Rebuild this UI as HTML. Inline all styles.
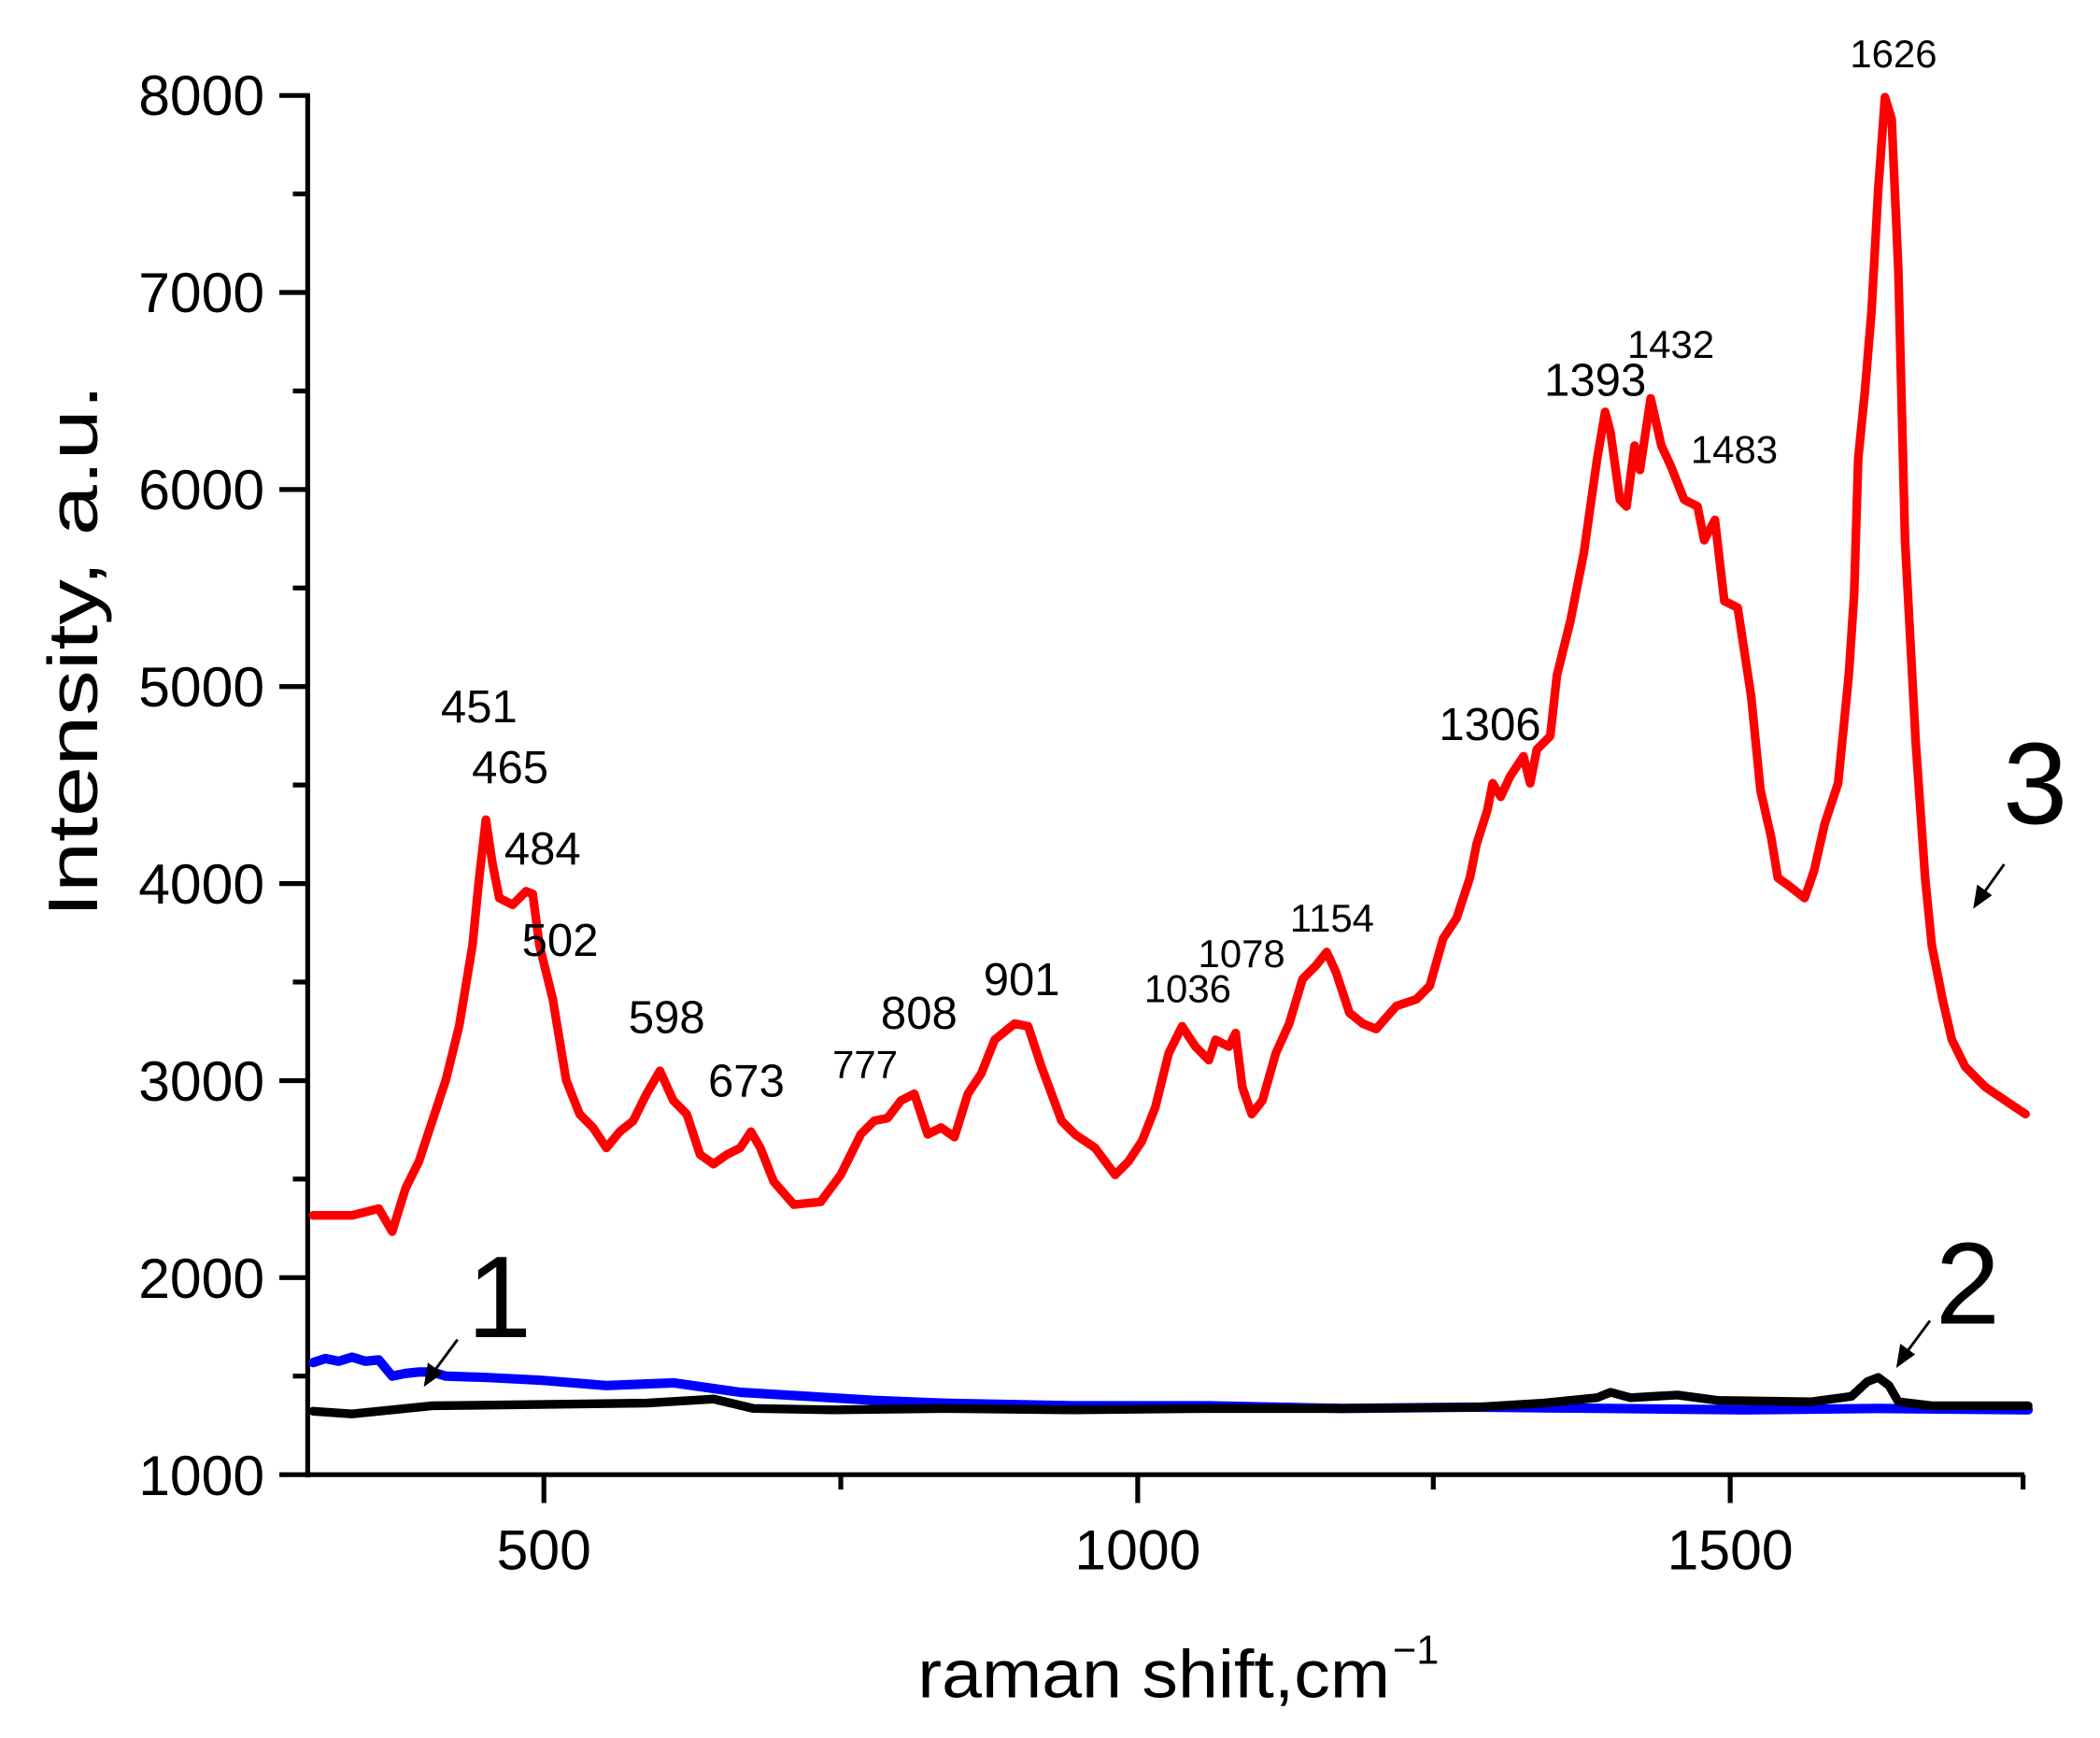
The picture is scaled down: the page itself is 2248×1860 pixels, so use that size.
<!DOCTYPE html>
<html><head><meta charset="utf-8"><style>
html,body{margin:0;padding:0;background:#fff;}
svg{display:block;}
text{font-family:"Liberation Sans",Arial,sans-serif;fill:#000;}
</style></head><body>
<svg width="2248" height="1860" viewBox="0 0 1556 1287" preserveAspectRatio="none" xmlns="http://www.w3.org/2000/svg">
<rect width="1556" height="1287" fill="#fff"/>
<g stroke="#000" stroke-width="3.6" fill="none">
<line x1="228" y1="69" x2="228" y2="1094"/>
<line x1="226.5" y1="1092" x2="1500" y2="1092"/>
<line x1="207" y1="1092" x2="228" y2="1092"/>
<line x1="207" y1="946.1" x2="228" y2="946.1"/>
<line x1="207" y1="800.2" x2="228" y2="800.2"/>
<line x1="207" y1="654.3" x2="228" y2="654.3"/>
<line x1="207" y1="508.4" x2="228" y2="508.4"/>
<line x1="207" y1="362.5" x2="228" y2="362.5"/>
<line x1="207" y1="216.6" x2="228" y2="216.6"/>
<line x1="207" y1="70.7" x2="228" y2="70.7"/>
<line x1="217" y1="1019" x2="228" y2="1019"/>
<line x1="217" y1="873.1" x2="228" y2="873.1"/>
<line x1="217" y1="727.2" x2="228" y2="727.2"/>
<line x1="217" y1="581.3" x2="228" y2="581.3"/>
<line x1="217" y1="435.4" x2="228" y2="435.4"/>
<line x1="217" y1="289.5" x2="228" y2="289.5"/>
<line x1="217" y1="143.6" x2="228" y2="143.6"/>
<line x1="403" y1="1092" x2="403" y2="1113"/>
<line x1="843" y1="1092" x2="843" y2="1113"/>
<line x1="1282" y1="1092" x2="1282" y2="1113"/>
<line x1="623" y1="1092" x2="623" y2="1103"/>
<line x1="1062" y1="1092" x2="1062" y2="1103"/>
<line x1="1499" y1="1092" x2="1499" y2="1103"/>
</g>
<g font-size="42" text-anchor="end">
<text x="196" y="1107">1000</text>
<text x="196" y="961">2000</text>
<text x="196" y="815">3000</text>
<text x="196" y="669">4000</text>
<text x="196" y="523">5000</text>
<text x="196" y="377">6000</text>
<text x="196" y="231">7000</text>
<text x="196" y="85">8000</text>
</g>
<g font-size="42" text-anchor="middle">
<text x="403" y="1162">500</text>
<text x="843" y="1162">1000</text>
<text x="1282" y="1162">1500</text>
</g>
<text x="680" y="1257" font-size="50" textLength="350" lengthAdjust="spacingAndGlyphs">raman shift,cm</text>
<text x="1032" y="1232" font-size="30">−1</text>
<text transform="translate(72,482) rotate(-90)" font-size="52" text-anchor="middle" textLength="395" lengthAdjust="spacingAndGlyphs">Intensity, a.u.</text>

<g transform="matrix(0.992 0 0 1 2.9 0)" fill="none" stroke-linejoin="round" stroke-linecap="round">
<polyline stroke="#0000ff" stroke-width="7" points="231,1009 240,1006 250,1008 260,1005 270,1008 280,1007 290,1019 300,1017 310,1016 320,1016 330,1019 360,1020 400,1022 450,1026 500,1024 550,1031 600,1034 650,1037 700,1039 800,1041 900,1041 1000,1043 1100,1042 1200,1043 1300,1044 1400,1043 1512,1044"/>
<polyline stroke="#000" stroke-width="6.5" points="231,1045 260,1047 320,1041 400,1040 480,1039 530,1036 560,1043 620,1044 700,1043 800,1044 900,1043 1000,1043 1100,1042 1150,1039 1190,1035 1200,1031 1215,1035 1250,1033 1280,1037 1350,1038 1380,1034 1392,1023 1400,1020 1408,1026 1415,1038 1440,1041 1512,1041"/>
<polyline stroke="#ff0000" stroke-width="6.5" points="231,900 260,900 280,895 290,912 300,880 310,860 320,830 330,800 340,760 345,730 350,700 355,650 360,607 365,640 370,665 380,670 390,660 395,662 400,700 410,740 420,800 430,825 440,835 450,850 460,838 470,830 480,810 490,793 500,815 510,825 520,855 530,862 540,855 550,850 558,838 565,850 575,875 590,892 610,890 625,870 640,840 650,830 660,828 670,815 680,810 690,840 700,835 710,842 720,810 730,795 740,770 755,758 765,760 775,790 790,830 800,840 815,850 830,870 840,860 850,845 860,820 870,780 880,760 890,775 900,785 905,770 915,775 920,765 925,805 932,825 940,815 950,780 960,758 970,725 980,715 988,705 995,720 1005,750 1015,758 1025,762 1040,745 1055,740 1065,730 1075,695 1085,680 1095,650 1100,625 1108,600 1112,580 1118,590 1125,575 1135,560 1140,580 1145,555 1155,545 1160,500 1170,460 1180,410 1190,340 1196,305 1200,320 1207,370 1212,375 1218,330 1222,348 1230,295 1238,330 1245,345 1255,370 1265,375 1270,400 1278,385 1285,445 1295,450 1305,515 1312,585 1320,620 1325,650 1332,655 1345,665 1352,645 1360,610 1370,580 1378,500 1382,440 1385,340 1390,290 1395,230 1400,140 1405,72 1410,88 1415,200 1420,400 1428,550 1435,650 1440,700 1448,740 1455,770 1465,790 1480,805 1495,815 1510,825"/>
</g>

<g font-size="34" text-anchor="middle">
<text x="355" y="535">451</text>
<text x="378" y="580">465</text>
<text x="402" y="640">484</text>
<text x="415" y="708">502</text>
<text x="494" y="765">598</text>
<text x="553" y="812">673</text>
<text x="681" y="762">808</text>
<text x="757" y="737">901</text>
<text x="1104" y="548">1306</text>
<text x="1182" y="293">1393</text>
</g>
<g font-size="29" text-anchor="middle">
<text x="641" y="798">777</text>
<text x="880" y="742">1036</text>
<text x="920" y="716">1078</text>
<text x="987" y="690">1154</text>
<text x="1238" y="265">1432</text>
<text x="1285" y="343">1483</text>
<text x="1403" y="50">1626</text>
</g>
<g font-size="86" text-anchor="middle">
<text x="370" y="990">1</text>
<text x="1458" y="980">2</text>
<text x="1508" y="610">3</text>
</g>
<g stroke="#000" stroke-width="2" fill="#000">
<line x1="339" y1="992" x2="322" y2="1015"/>
<polygon points="314,1027 317,1009 328,1017" stroke="none"/>
<line x1="1430" y1="978" x2="1413" y2="1001"/>
<polygon points="1405,1013 1408,995 1419,1003" stroke="none"/>
<line x1="1485" y1="640" x2="1470" y2="661"/>
<polygon points="1462,673 1465,655 1476,663" stroke="none"/>
</g>
</svg>
</body></html>
